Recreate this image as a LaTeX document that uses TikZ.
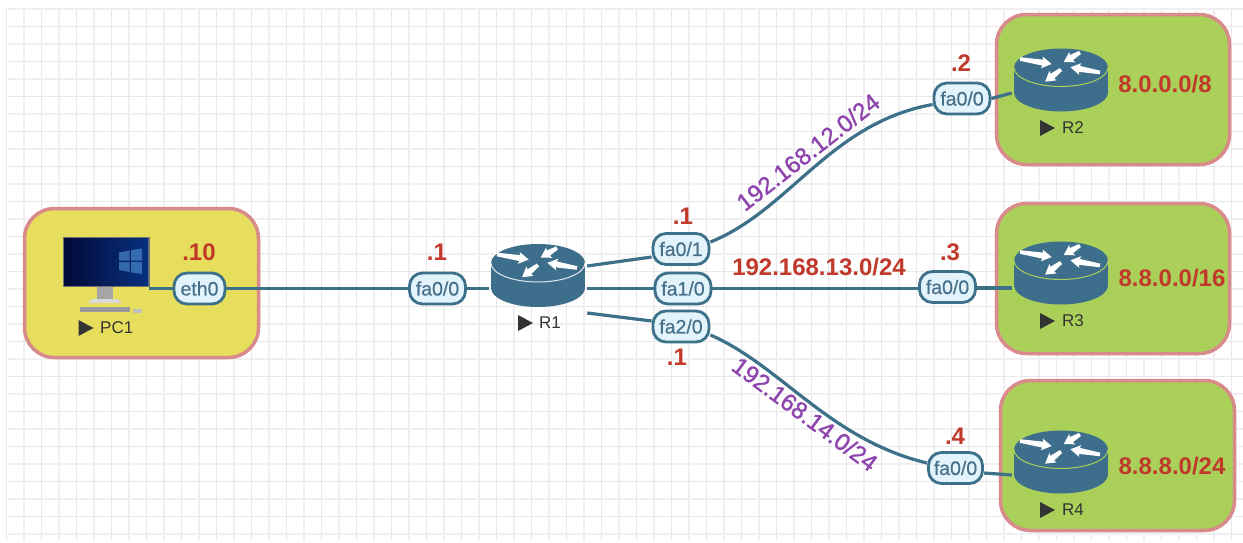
\documentclass[tikz,border=0pt]{standalone}
\usepackage{fontspec}
\setmainfont{Liberation Sans}
\newfontfamily\medfont[FakeBold=1.2]{Liberation Sans}
\newfontfamily\pillfont[FakeBold=0.4]{Liberation Sans}
\usetikzlibrary{arrows.meta,shapes.misc}
\definecolor{linkc}{HTML}{3D7089}
\definecolor{bodyc}{HTML}{3D6F8D}
\definecolor{pillf}{HTML}{E3F3FB}
\definecolor{pillt}{HTML}{46708A}
\definecolor{redt}{HTML}{C0392B}
\definecolor{purt}{HTML}{8E44AD}
\definecolor{boxb}{HTML}{D98A8A}
\definecolor{yelf}{HTML}{E6DE5C}
\definecolor{grnf}{HTML}{AAD05A}
\definecolor{gridA}{HTML}{E8E8EA}
\definecolor{gridB}{HTML}{F0F0F2}
\definecolor{darkt}{HTML}{333333}
\definecolor{scrL}{HTML}{010A38}
\definecolor{scrR}{HTML}{08307E}
\newcommand{\rarrowglyph}[4]{%
  \fill[white,shift={(#1,#2)},rotate=#3] (0,-1.8) -- (#4-9,-3) -- (#4-10,-6) -- (#4,0) -- (#4-10,6) -- (#4-9,3) -- (0,1.8) -- cycle;}
\tikzset{
  x=1pt,y=-1pt,
  areabox/.style={draw=boxb,line width=3.5pt,rounded corners=30pt,fill=#1,inner sep=0pt},
  pill/.style={draw=linkc,line width=2.8pt,fill=pillf,rounded corners=13pt,text=pillt,
    minimum width=56pt,minimum height=31pt,inner sep=0pt,font=\pillfont\fontsize{19.5}{21}\selectfont},
  link/.style={draw=linkc,line width=3.2pt},
  ipaddr/.style={text=redt,font=\fontsize{24}{26}\selectfont\bfseries,inner sep=0pt},
  subnetp/.style={text=purt,font=\medfont\fontsize{24}{26}\selectfont,inner sep=0pt},
  devname/.style={text=darkt,font=\fontsize{17}{19}\selectfont,inner sep=0pt,anchor=west},
  anchorbox/.style={minimum width=98pt,minimum height=63pt,inner sep=0pt},
  gridmaj/.style={draw=gridA,line width=1.8pt},
  gridmin/.style={draw=gridB,line width=1.8pt},
  router/.pic={
    \fill[bodyc] (-47,-12.5) rectangle (47,12.5);
    \fill[bodyc] (0,12.5) ellipse[x radius=47,y radius=19];
    \fill[bodyc] (0,-12.5) ellipse[x radius=47,y radius=19];
    \draw[#1,line width=1pt] (-47,-12.5) arc[start angle=180,end angle=0,x radius=47,y radius=19];
    \rarrowglyph{-41}{-21}{-9}{32}
    \rarrowglyph{19}{-27.5}{210.7}{19}
    \rarrowglyph{39}{-7.5}{170}{30}
    \rarrowglyph{0}{-10.5}{217.5}{20}
  },
  playmark/.pic={\fill[darkt] (0,-8) -- (15,0) -- (0,8) -- cycle;}
}
\begin{document}
\begin{tikzpicture}
\useasboundingbox (0,0) rectangle (1243,542);
\fill[white] (0,0) rectangle (1243,542);
% grid
\foreach \i in {0,...,70}{
  \pgfmathsetmacro{\gx}{6.5+17.5*\i}
  \pgfmathtruncatemacro{\odd}{mod(\i,2)}
  \ifnum\odd=0 \draw[gridmaj] (\gx,9) -- (\gx,541);\else \draw[gridmin] (\gx,9) -- (\gx,541);\fi
}
\foreach \i in {0,...,30}{
  \pgfmathsetmacro{\gy}{9+17.5*\i}
  \pgfmathtruncatemacro{\odd}{mod(\i,2)}
  \ifnum\odd=1 \draw[gridmaj] (6.5,\gy) -- (1243,\gy);\else \draw[gridmin] (6.5,\gy) -- (1243,\gy);\fi
}
% area boxes
\node[areabox=yelf,minimum width=234pt,minimum height=149pt] (boxpc) at (141.5,283) {};
\node[areabox=grnf,minimum width=233pt,minimum height=150pt] (boxr2) at (1113,89.5) {};
\node[areabox=grnf,minimum width=233pt,minimum height=150pt] (boxr3) at (1113,278.5) {};
\node[areabox=grnf,minimum width=234pt,minimum height=150pt] (boxr4) at (1117.5,455.5) {};
% PC icon
\node[minimum width=86pt,minimum height=54pt,inner sep=0pt] (pc) at (106,261.5) {};
\fill[black!55] (62.5,236.5) rectangle (149.5,287);
\shade[left color=scrL,right color=scrR] (64,238) rectangle (148,285);
\fill[cyan!60!blue!70!white,opacity=.6] (119,252.5) -- (129.5,250.5) -- (129.5,260.5) -- (119,260.5) -- cycle;
\fill[cyan!60!blue!70!white,opacity=.6] (131,250.2) -- (142,248.5) -- (142,260.5) -- (131,260.5) -- cycle;
\fill[cyan!60!blue!70!white,opacity=.6] (119,262) -- (129.5,262) -- (129.5,272) -- (119,270) -- cycle;
\fill[cyan!60!blue!70!white,opacity=.6] (131,262) -- (142,262) -- (142,274) -- (131,272.3) -- cycle;
\fill[black!35] (97,287) rectangle (113,299);
\fill[black!15] (92,299) -- (118,299) -- (122,303) -- (88,303) -- cycle;
\fill[black!40] (80,306.5) rectangle (130,312);
\fill[black!25] (133,309) rectangle (142,312.5);
% routers
\node[anchorbox] (r1) at (538,275.5) {};
\node[anchorbox] (r2) at (1061,80) {};
\node[anchorbox] (r3) at (1061,273) {};
\node[anchorbox] (r4) at (1061,462) {};
\pic at (538,275.5) {router=white!85!bodyc};
\pic at (1061,80) {router=grnf};
\pic at (1061,273) {router=grnf};
\pic at (1061,462) {router=grnf};
% device names
\pic at (78.5,328) {playmark};
\pic at (518,323) {playmark};
\pic at (1040,128) {playmark};
\pic at (1040,321) {playmark};
\pic at (1040,510) {playmark};
\node[devname] (npc) at (100,328) {PC1};
\node[devname] (nr1) at (539,323) {R1};
\node[devname] (nr2) at (1062,128) {R2};
\node[devname] (nr3) at (1062,321) {R3};
\node[devname] (nr4) at (1062,510) {R4};
% interfaces
\node[pill,minimum width=51pt] (eth) at (199.5,288.5) {eth0};
\node[pill] (fa00) at (437.5,288.5) {fa0/0};
\node[pill] (fa01) at (681,249) {fa0/1};
\node[pill] (fa10) at (683,288.5) {fa1/0};
\node[pill] (fa20) at (681,326.5) {fa2/0};
\node[pill] (r2fa) at (962,98.5) {fa0/0};
\node[pill] (r3fa) at (947.5,287) {fa0/0};
\node[pill,minimum width=54pt] (r4fa) at (955.5,468) {fa0/0};
% links
\draw[link] (pc.south east) -- (eth.west |- pc.south east);
\draw[link] (eth) -- (fa00);
\draw[link] (fa00.east) -- ([yshift=-13pt]r1.west);
\draw[link] ([yshift=9.5pt]r1.east) -- ([yshift=-8pt]fa01.west);
\draw[link] ([yshift=-13pt]r1.east) -- (fa10.west);
\draw[link] ([yshift=-37.5pt]r1.east) -- ([yshift=5.5pt]fa20.west);
\draw[link] ([yshift=7pt]fa01.east) .. controls (790,210) and (830,123) .. ([yshift=-6pt]r2fa.west);
\draw[link] (fa10) -- (r3fa.west |- fa10);
\draw[link] ([yshift=-8.5pt]fa20.east) .. controls (780,365) and (830,440) .. ([yshift=5pt]r4fa.west);
\draw[link] (r2fa.east) -- ([yshift=-13pt]r2.west);
\draw[link] ([yshift=-1pt]r3fa.east) -- ([yshift=-15pt]r3.west);
\draw[link] ([yshift=-5pt]r4fa.east) -- ([yshift=-13pt]r4.west);
% addresses
\node[ipaddr] (ip1) at (199,252) {.10};
\node[ipaddr] (ip2) at (437,252) {.1};
\node[ipaddr] (ip3) at (683,216) {.1};
\node[ipaddr] (ip4) at (677,357) {.1};
\node[ipaddr] (ip5) at (961,63) {.2};
\node[ipaddr] (ip6) at (950,252) {.3};
\node[ipaddr] (ip7) at (955,436) {.4};
\node[ipaddr] (net2) at (1165,84) {8.0.0.0/8};
\node[ipaddr] (net3) at (1172,278) {8.8.0.0/16};
\node[ipaddr] (net4) at (1172,466) {8.8.8.0/24};
\node[ipaddr] (sub13) at (819,267) {192.168.13.0/24};
\node[subnetp,rotate=38] (sub12) at (808,152) {192.168.12.0/24};
\node[subnetp,rotate=-36.5] (sub14) at (805,414) {192.168.14.0/24};
\end{tikzpicture}
\end{document}
